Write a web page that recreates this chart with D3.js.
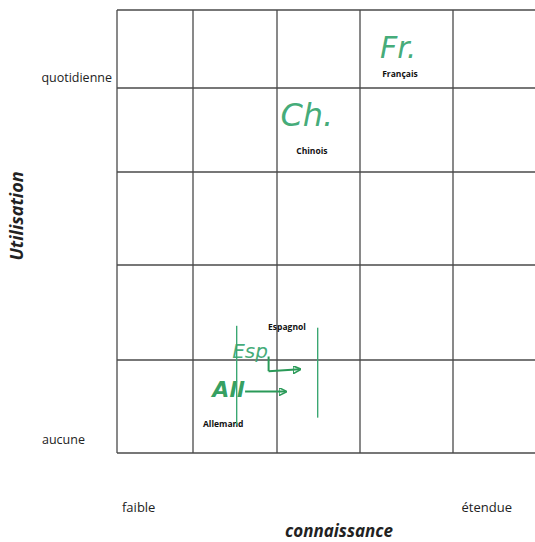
<!DOCTYPE html>
<html><head><meta charset="utf-8">
<script src="https://cdn.jsdelivr.net/npm/d3@7"></script>
<style>
body{margin:0;background:#fff;}
svg{display:block;}
</style></head><body>
<svg id="c" width="535" height="542"></svg>
<script>
// ---- data ----
const languages = ["Français", "Chinois", "Espagnol", "Allemand"];
const knowledge = [3.43, 2.42, 2.12, 1.36];   // grid units, 0 = faible .. 5 = étendue
const usage     = [4.18, 3.26, 1.35, 0.32];   // grid units, 0 = aucune .. 5 = quotidienne
const marks      = ["Fr.", "Ch.", "Esp", "All"];      // handwritten abbreviations
const markKnow   = [3.41, 2.36, 1.68, 1.42];
const markUse    = [4.52, 3.68, 1.10, 0.68];
const gridTicks  = [0, 1, 2, 3, 4, 5];
const xTickLabels = ["faible", "étendue"];
const yTickLabels = ["aucune", "quotidienne"];
const xTitle = "connaissance";
const yTitle = "Utilisation";
// handwritten arrows (from -> to) in grid units
const arrowFromX = [1.62, 1.90];
const arrowFromY = [0.66, 0.88];
const arrowToX   = [2.10, 2.27];
const arrowToY   = [0.66, 0.90];
// handwritten bracket strokes
const bracketX    = [1.52, 2.49];
const bracketTopY = [1.36, 1.34];
const bracketBotY = [0.30, 0.38];

// ---- scales (hand-drawn grid has unequal cells) ----
const x = d3.scaleLinear().domain(gridTicks).range([117, 193, 277, 360, 453, 545]);
const y = d3.scaleLinear().domain(gridTicks).range([453, 360, 265, 172, 88, 10]);

const svg = d3.select("#c");
const lineCol = "#4a4a4a";
const ink = "#3aa772";
const inkDark = "#2a9a58";
const font = "'Open Sans', 'Liberation Sans', sans-serif";

// grid
svg.append("g").selectAll("line").data(gridTicks.slice(0, 5)).join("line")
  .attr("x1", d => x(d)).attr("x2", d => x(d))
  .attr("y1", y(5)).attr("y2", y(0))
  .attr("stroke", lineCol).attr("stroke-width", 1.3);
svg.append("g").selectAll("line").data(gridTicks).join("line")
  .attr("x1", x(0)).attr("x2", x(5))
  .attr("y1", d => y(d)).attr("y2", d => y(d))
  .attr("stroke", lineCol).attr("stroke-width", 1.3);

// axis end labels
svg.append("text").attr("x", 112).attr("y", y(4) - 6).attr("text-anchor", "end")
  .attr("font-family", font).attr("font-size", 12.5).attr("fill", "#222").text(yTickLabels[1]);
svg.append("text").attr("x", 42).attr("y", y(0) - 9)
  .attr("font-family", font).attr("font-size", 12.5).attr("fill", "#222").text(yTickLabels[0]);
svg.append("text").attr("x", 122).attr("y", 512)
  .attr("font-family", font).attr("font-size", 13).attr("fill", "#222").text(xTickLabels[0]);
svg.append("text").attr("x", 512).attr("y", 512).attr("text-anchor", "end")
  .attr("font-family", font).attr("font-size", 13).attr("fill", "#222").text(xTickLabels[1]);

// axis titles
svg.append("text").attr("x", 339).attr("y", 537).attr("text-anchor", "middle")
  .attr("font-family", font).attr("font-size", 17).attr("font-weight", "bold")
  .attr("font-style", "italic").attr("fill", "#222").text(xTitle);
svg.append("text").attr("transform", "translate(23,216) rotate(-90)").attr("text-anchor", "middle")
  .attr("font-family", font).attr("font-size", 18).attr("font-weight", "bold")
  .attr("font-style", "italic").attr("fill", "#222").text(yTitle);

// white patch behind Chinois label
const labels = svg.append("g");
labels.selectAll("rect").data(languages.filter(l => l === "Chinois")).join("rect")
  .attr("x", x(knowledge[1]) - 28).attr("y", y(usage[1]) - 18)
  .attr("width", 60).attr("height", 36).attr("fill", "#fff");

// handwritten marks
svg.append("g").selectAll("text").data(marks).join("text")
  .attr("x", (d, i) => x(markKnow[i])).attr("y", (d, i) => y(markUse[i]))
  .attr("text-anchor", "middle").attr("dominant-baseline", "central")
  .attr("font-family", "'DejaVu Sans', sans-serif").attr("font-size", (d, i) => [30, 32, 20, 22][i])
  .attr("font-style", "italic").attr("font-weight", (d, i) => i === 3 ? "bold" : "normal")
  .attr("fill", (d, i) => i === 3 ? inkDark : ink).attr("fill-opacity", 0.95)
  .text(d => d);

// arrows
svg.append("defs").append("marker").attr("id", "ah").attr("viewBox", "0 0 10 10")
  .attr("refX", 8).attr("refY", 5).attr("markerWidth", 4).attr("markerHeight", 4)
  .attr("orient", "auto")
  .append("path").attr("d", "M0,0 L10,5 L0,10 Z").attr("fill", "none").attr("stroke", inkDark).attr("stroke-width", 2);
svg.append("g").selectAll("line").data(arrowFromX).join("line")
  .attr("x1", d => x(d)).attr("y1", (d, i) => y(arrowFromY[i]))
  .attr("x2", (d, i) => x(arrowToX[i])).attr("y2", (d, i) => y(arrowToY[i]))
  .attr("stroke", inkDark).attr("stroke-width", 2).attr("marker-end", "url(#ah)");
// vertical stroke for Esp arrow
svg.append("line").attr("x1", x(arrowFromX[1])).attr("x2", x(arrowFromX[1]))
  .attr("y1", y(markUse[2]) + 6).attr("y2", y(arrowFromY[1]))
  .attr("stroke", inkDark).attr("stroke-width", 2);
// brackets
svg.append("g").selectAll("line").data(bracketX).join("line")
  .attr("x1", d => x(d)).attr("x2", d => x(d))
  .attr("y1", (d, i) => y(bracketTopY[i])).attr("y2", (d, i) => y(bracketBotY[i]))
  .attr("stroke", ink).attr("stroke-width", 1.4);

// language labels
labels.selectAll("text").data(languages).join("text")
  .attr("x", (d, i) => x(knowledge[i])).attr("y", (d, i) => y(usage[i]))
  .attr("text-anchor", "middle").attr("dominant-baseline", "central")
  .attr("font-family", font).attr("font-size", 8.5).attr("font-weight", "bold")
  .attr("fill", "#111").text(d => d);
</script>
</body></html>
